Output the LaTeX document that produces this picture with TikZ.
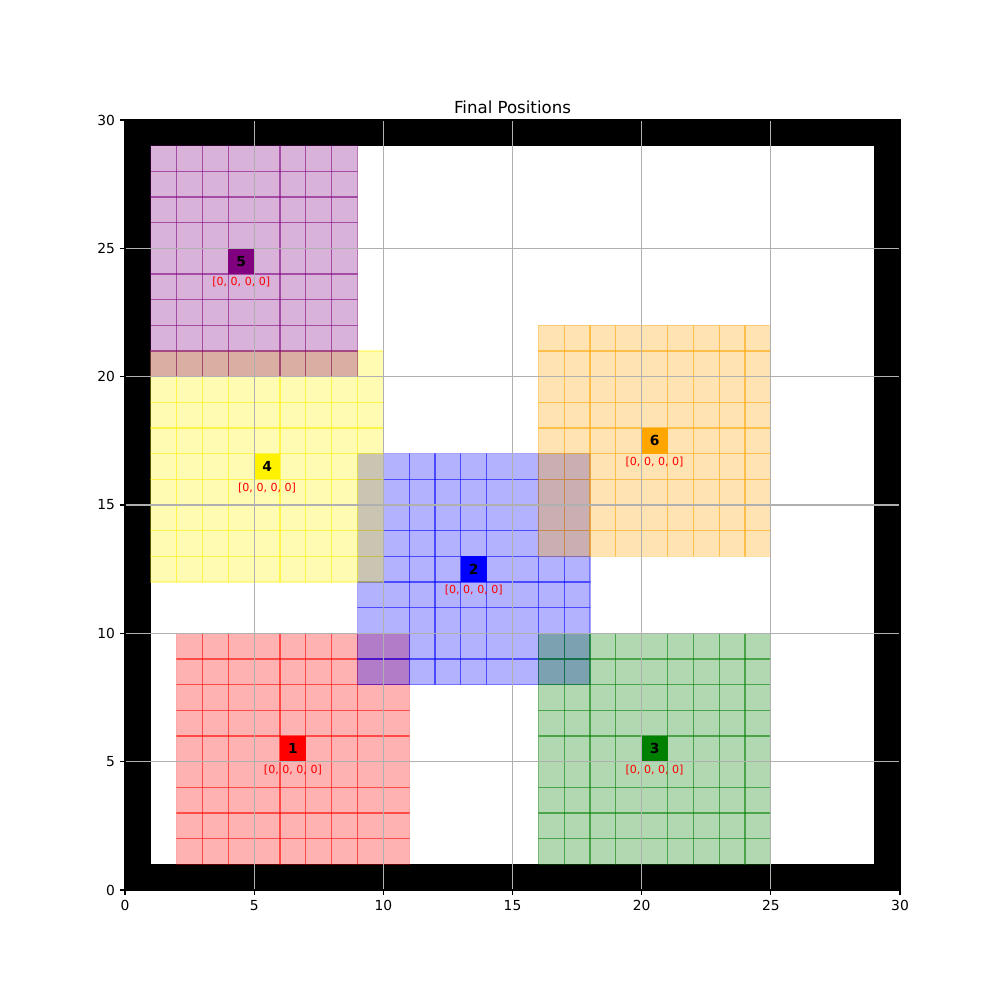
\documentclass[tikz,border=0pt]{standalone}
\usepackage{fontspec}
\setmainfont{DejaVu Sans}
\usepackage{tikz}

\definecolor{gridgray}{HTML}{B0B0B0}
\definecolor{mplgreen}{HTML}{008000}
\definecolor{mplpurple}{HTML}{800080}
\definecolor{mplorange}{HTML}{FFA500}

\tikzset{
  viewcell/.style={fill=#1, fill opacity=0.3, draw=#1, draw opacity=0.35, line width=0.8pt},
  agentid/.style={font=\bfseries\fontsize{10}{12}\selectfont, text=black, inner sep=0pt},
  agentmsg/.style={font=\fontsize{8}{10}\selectfont, text=red, inner sep=0pt},
  ticklab/.style={font=\fontsize{10}{12}\selectfont, inner sep=0pt},
}

\begin{document}
\begin{tikzpicture}[x=0.656167cm,y=0.651933cm]

% 画布范围（与原图边距一致）
\useasboundingbox (-4.8387,-4.2857) rectangle (33.8710,34.6753);

% 墙壁：外圈黑色，内部白色
\fill[black] (0,0) rectangle (30,30);
\fill[white] (1,1) rectangle (29,29);

% 各智能体的视野区域：颜色/x0/x1/y0/y1
\foreach \c/\xa/\xb/\ya/\yb in {red/2/11/1/10, blue/9/18/8/17, mplgreen/16/25/1/10,
                                 yellow/1/10/12/21, mplpurple/1/9/20/29, mplorange/16/25/13/22}{
  \pgfmathtruncatemacro{\xe}{\xb-1}
  \pgfmathtruncatemacro{\ye}{\yb-1}
  \foreach \i in {\xa,...,\xe}{
    \foreach \j in {\ya,...,\ye}{
      \draw[viewcell=\c] (\i,\j) rectangle ++(1,1);
    }
  }
}

% 智能体所在格子
\foreach \n/\c/\x/\y in {1/red/6/5, 2/blue/13/12, 3/mplgreen/20/5,
                         4/yellow/5/16, 5/mplpurple/4/24, 6/mplorange/20/17}{
  \fill[\c] (\x,\y) rectangle ++(1,1);
}

% 网格线
\foreach \v in {0,5,...,30}{
  \draw[gridgray, line width=0.8pt] (\v,0) -- (\v,30);
  \draw[gridgray, line width=0.8pt] (0,\v) -- (30,\v);
}

% 坐标轴边框
\draw[line width=0.8pt] (0,0) rectangle (30,30);

% 刻度与刻度标签
\foreach \v in {0,5,...,30}{
  \draw[line width=0.8pt] (\v,0) -- ++(0,-3.5pt);
  \draw[line width=0.8pt] (0,\v) -- ++(-3.5pt,0);
  \node[ticklab, anchor=north] (xt\v) at ([yshift=-7pt]\v,0) {\v};
  \node[ticklab, anchor=east] (yt\v) at ([xshift=-7pt]0,\v) {\v};
}

% 编号与消息
\foreach \n/\x/\y in {1/6/5, 2/13/12, 3/20/5, 4/5/16, 5/4/24, 6/20/17}{
  \node[agentid] (id\n) at (\x+0.5,\y+0.5) {\n};
  \node[agentmsg] (msg\n) at (\x+0.5,\y-0.32) {[0, 0, 0, 0]};
}

% 标题
\node[font=\fontsize{12}{14}\selectfont, anchor=base, inner sep=0pt] (title) at ([yshift=5pt]15,30) {Final Positions};

\end{tikzpicture}
\end{document}
